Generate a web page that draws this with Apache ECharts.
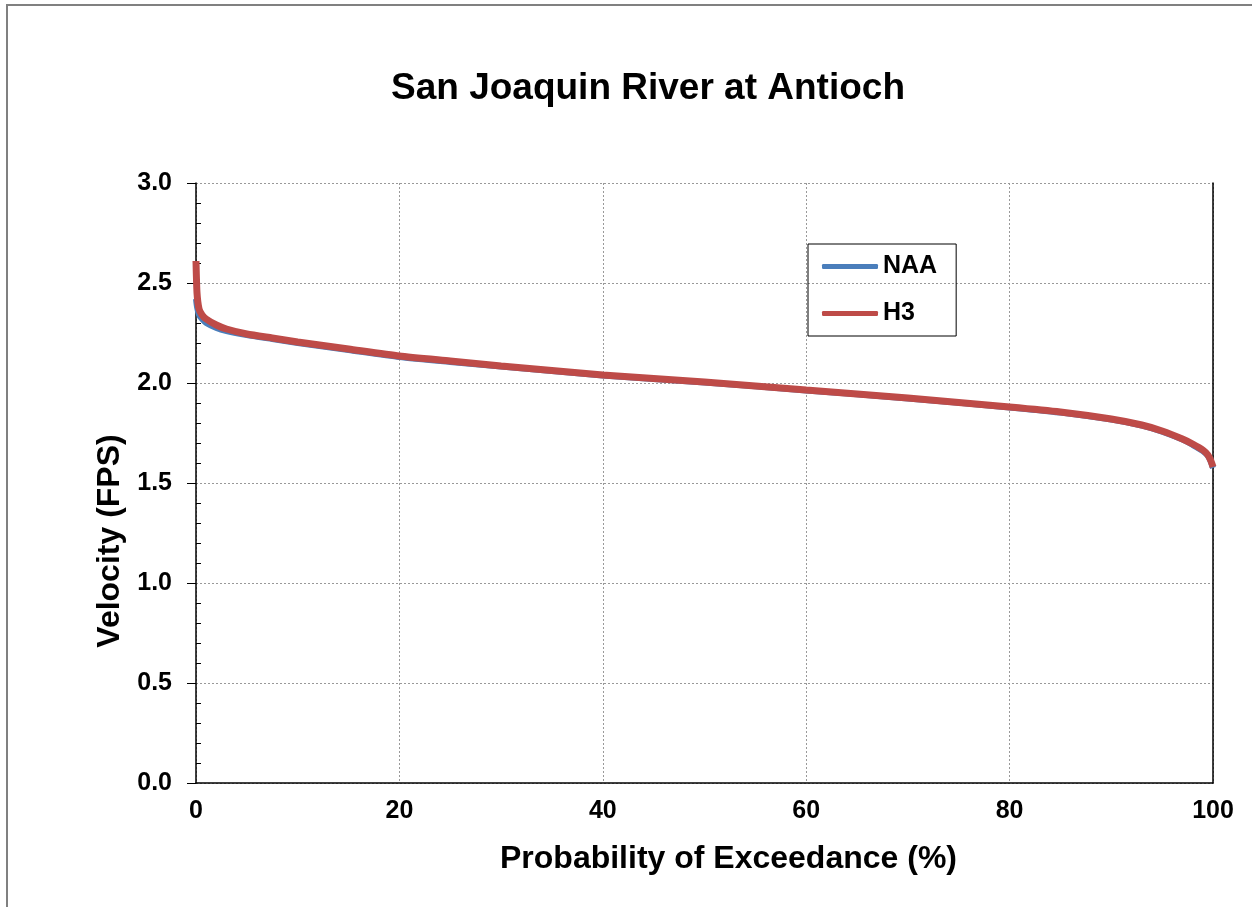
<!DOCTYPE html>
<html>
<head>
<meta charset="utf-8">
<script src="https://cdn.jsdelivr.net/npm/echarts@6/dist/echarts.min.js"></script>
<style>
  html, body { margin: 0; padding: 0; background: #fff; }
  #chart { width: 1252px; height: 907px; }
</style>
</head>
<body>
<div id="chart"></div>
<script>
// probability of exceedance (%)
const exceedance = [0, 0.1, 0.3, 0.6, 1, 2, 3, 5, 7.5, 10, 15, 20, 25, 30, 40, 50, 60, 70, 80, 85, 90, 93, 95, 97, 98, 99, 99.5, 99.8, 100]
// velocity (fps)
const naaVelocity = [2.42, 2.38, 2.34, 2.32, 2.30, 2.275, 2.26, 2.24, 2.22, 2.20, 2.165, 2.13, 2.105, 2.082, 2.038, 2.003, 1.963, 1.923, 1.878, 1.852, 1.817, 1.787, 1.757, 1.717, 1.69, 1.66, 1.635, 1.605, 1.575]
const h3Velocity = [2.61, 2.45, 2.37, 2.34, 2.32, 2.29, 2.27, 2.245, 2.225, 2.205, 2.17, 2.135, 2.11, 2.085, 2.04, 2.005, 1.965, 1.925, 1.88, 1.855, 1.82, 1.79, 1.76, 1.72, 1.695, 1.665, 1.64, 1.61, 1.58]
const seriesNames = ['NAA', 'H3']
const seriesColors = ['#4a7ebb', '#be4b48']

const font = 'Arial, "Liberation Sans", sans-serif'

function pairs(xs, ys) {
  return xs.map((x, i) => [x, ys[i]])
}

const chart = echarts.init(document.getElementById('chart'))

const option = {
  animation: false,
  backgroundColor: '#fff',
  textStyle: { fontFamily: font },
  graphic: [
    {
      type: 'rect',
      shape: { x: 7, y: 5, width: 1400, height: 1000 },
      style: { fill: null, stroke: '#808080', lineWidth: 2 }
    },
    {
      type: 'text',
      x: 648,
      y: 89,
      style: {
        text: 'San Joaquin River at Antioch',
        fontSize: 37,
        fontWeight: 'bold',
        fontFamily: font,
        fill: '#000',
        align: 'center',
        verticalAlign: 'middle'
      }
    }
  ],
  legend: {
    data: seriesNames.map(n => ({ name: n, icon: 'roundRect' })),
    orient: 'vertical',
    left: 808,
    top: 244,
    padding: [10, 19, 10, 14],
    itemGap: 22,
    itemWidth: 56,
    itemHeight: 5,
    borderColor: '#000',
    borderWidth: 1,
    textStyle: { fontSize: 25, fontWeight: 'bold', color: '#000', fontFamily: font }
  },
  grid: { left: 196, right: 39, top: 183, bottom: 124, containLabel: false },
  xAxis: {
    type: 'value',
    min: 0,
    max: 100,
    interval: 20,
    name: 'Probability of Exceedance (%)',
    nameLocation: 'middle',
    nameGap: 60,
    nameTextStyle: { fontSize: 32, fontWeight: 'bold', color: '#000', fontFamily: font, padding: [0, 0, 0, 48] },
    axisLine: { lineStyle: { color: '#000', width: 1.5 } },
    axisTick: { show: false },
    axisLabel: { margin: 16, fontSize: 25, fontWeight: 'bold', color: '#000', fontFamily: font },
    splitLine: { lineStyle: { color: '#999', type: [2, 2], width: 1 } }
  },
  yAxis: [
    {
      type: 'value',
      min: 0,
      max: 3,
      interval: 0.5,
      name: 'Velocity (FPS)',
      nameLocation: 'middle',
      nameGap: 62,
      nameTextStyle: { fontSize: 32, fontWeight: 'bold', color: '#000', fontFamily: font, padding: [0, 116, 0, 0] },
      axisLine: { show: true, lineStyle: { color: '#000', width: 1.5 } },
      axisTick: { show: true, length: 9, lineStyle: { color: '#000' } },
      axisLabel: {
        margin: 24,
        fontSize: 25,
        fontWeight: 'bold',
        color: '#000',
        fontFamily: font,
        formatter: v => v.toFixed(1)
      },
      splitLine: { lineStyle: { color: '#999', type: [2, 2], width: 1 } }
    },
    {
      // minor ticks pointing inward
      type: 'value',
      min: 0,
      max: 3,
      interval: 0.5,
      position: 'left',
      axisLine: { show: false },
      axisTick: { show: false, inside: true },
      minorTick: { show: true, splitNumber: 5, length: 5, lineStyle: { color: '#000' } },
      axisLabel: { show: false },
      splitLine: { show: false }
    },
    {
      // right frame line
      type: 'value',
      min: 0,
      max: 3,
      position: 'right',
      axisLine: { show: true, lineStyle: { color: '#000', width: 1.5 } },
      axisTick: { show: false },
      axisLabel: { show: false },
      splitLine: { show: false }
    }
  ],
  series: [
    {
      name: seriesNames[0],
      type: 'line',
      data: pairs(exceedance, naaVelocity),
      symbol: 'none',
      smooth: 0.2,
      lineStyle: { color: seriesColors[0], width: 6 },
      itemStyle: { color: seriesColors[0] }
    },
    {
      name: seriesNames[1],
      type: 'line',
      data: pairs(exceedance, h3Velocity),
      symbol: 'none',
      smooth: 0.2,
      lineStyle: { color: seriesColors[1], width: 7 },
      itemStyle: { color: seriesColors[1] }
    }
  ]
}

chart.setOption(option)
</script>
</body>
</html>
